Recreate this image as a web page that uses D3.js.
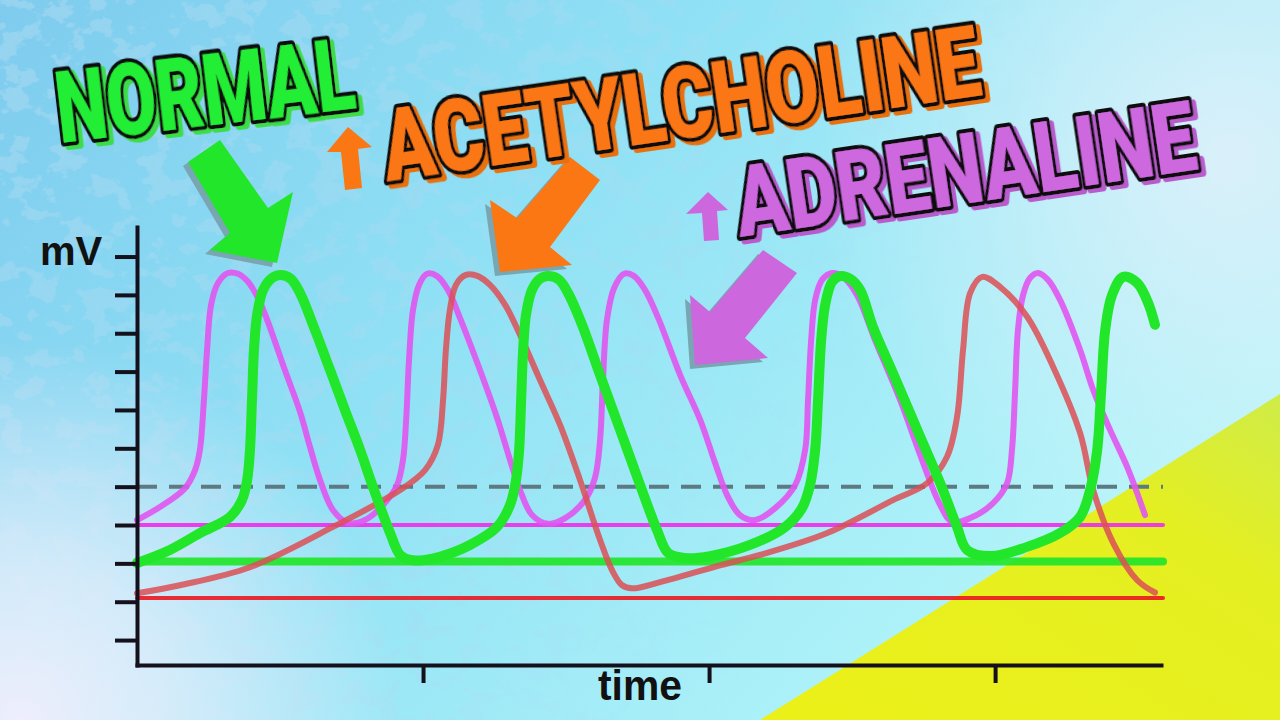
<!DOCTYPE html>
<html>
<head>
<meta charset="utf-8">
<script src="https://cdn.jsdelivr.net/npm/d3@7"></script>
<style>
  html, body { margin: 0; padding: 0; background: #9fe6f5; }
  svg { display: block; }
</style>
</head>
<body>
<div class="chart"></div>
<script>
var svgWidth = 1280;
var svgHeight = 720;
var margin = { top: 227, right: 119, bottom: 55, left: 137 };
var width = svgWidth - margin.left - margin.right;
var height = svgHeight - margin.top - margin.bottom;

// membrane potential levels (mV)
var thresholdLevel = -40;
var restLevels = [
  { name: "adrenaline", value: -50 },
  { name: "normal", value: -59.5 },
  { name: "acetylcholine", value: -69 }
];
var yTicks = [-80, -70, -60, -50, -40, -30, -20, -10, 0, 10, 20];
var xTicks = [1, 2, 3];

// [time (s), mV]
var normal = [[0,-59.9],[0.115,-56.5],[0.220,-52.1],[0.325,-47.9],[0.367,-43.5],[0.385,-38.3],[0.395,-30.4],[0.402,-17.4],[0.409,-4.3],[0.420,4.8],[0.441,11.3],[0.472,14.4],[0.503,15.2],[0.538,14.2],[0.570,10.5],[0.622,0.9],[0.675,-9.6],[0.727,-20.0],[0.780,-30.4],[0.825,-40.1],[0.885,-52.1],[0.920,-57.8],[0.955,-59.1],[1.007,-59.1],[1.059,-58.3],[1.164,-55.2],[1.259,-50.5],[1.304,-44.8],[1.325,-38.3],[1.336,-30.4],[1.343,-17.4],[1.350,-4.3],[1.360,4.8],[1.381,11.3],[1.409,14.2],[1.441,14.9],[1.476,13.9],[1.507,10.5],[1.556,2.2],[1.619,-10.9],[1.689,-25.2],[1.759,-39.6],[1.818,-51.3],[1.857,-57.3],[1.916,-58.6],[2.003,-58.1],[2.143,-55.2],[2.266,-50.5],[2.325,-45.6],[2.353,-39.6],[2.371,-30.4],[2.381,-17.4],[2.392,-1.7],[2.406,7.4],[2.430,13.4],[2.458,14.9],[2.493,14.2],[2.528,11.3],[2.573,1.6],[2.643,-10.4],[2.738,-27.0],[2.808,-39.1],[2.867,-50.5],[2.902,-56.5],[2.983,-58.1],[3.112,-55.7],[3.227,-52.1],[3.297,-47.9],[3.332,-40.9],[3.357,-30.4],[3.371,-14.8],[3.385,0.9],[3.409,10.0],[3.448,14.7],[3.497,13.1],[3.535,7.9],[3.559,2.2]];

var acetylcholine = [[0,-67.8],[0.150,-65.7],[0.395,-61.0],[0.685,-50.5],[0.920,-40.9],[1.007,-35.7],[1.052,-29.1],[1.070,-17.4],[1.080,-4.3],[1.094,6.1],[1.115,12.6],[1.150,15.2],[1.192,14.9],[1.234,12.6],[1.287,7.4],[1.339,-0.4],[1.409,-12.2],[1.479,-23.9],[1.549,-38.3],[1.619,-53.9],[1.661,-61.8],[1.696,-65.7],[1.731,-66.5],[1.829,-64.9],[2.038,-60.5],[2.178,-57.8],[2.413,-52.1],[2.643,-43.5],[2.762,-39.1],[2.832,-32.2],[2.867,-21.8],[2.888,-4.3],[2.913,10.5],[2.955,14.7],[3.017,12.1],[3.112,4.3],[3.203,-8.8],[3.297,-26.0],[3.343,-40.9],[3.413,-54.7],[3.497,-64.4],[3.559,-67.6]];

var adrenaline = [[0,-48.7],[0.080,-45.3],[0.168,-40.4],[0.203,-35.7],[0.220,-30.4],[0.234,-17.4],[0.245,-4.3],[0.259,7.4],[0.283,13.1],[0.318,15.7],[0.353,15.5],[0.388,13.4],[0.423,9.2],[0.455,3.5],[0.517,-9.6],[0.570,-20.5],[0.605,-29.7],[0.640,-38.3],[0.685,-46.1],[0.738,-49.5],[0.797,-48.7],[0.860,-44.8],[0.909,-39.6],[0.930,-33.0],[0.941,-22.6],[0.951,-6.9],[0.965,6.1],[0.986,12.6],[1.014,15.5],[1.049,14.9],[1.087,11.3],[1.129,4.0],[1.199,-9.6],[1.259,-22.1],[1.304,-33.0],[1.339,-40.9],[1.381,-47.4],[1.437,-49.7],[1.497,-48.2],[1.566,-43.5],[1.601,-37.7],[1.619,-27.8],[1.629,-12.2],[1.643,3.5],[1.668,11.8],[1.703,15.5],[1.738,14.9],[1.776,11.3],[1.822,4.0],[1.899,-10.9],[1.969,-22.6],[2.021,-33.8],[2.063,-42.2],[2.108,-47.4],[2.161,-48.7],[2.231,-45.6],[2.301,-39.6],[2.336,-30.4],[2.346,-17.4],[2.357,-1.7],[2.371,8.7],[2.395,13.9],[2.430,15.7],[2.465,14.9],[2.517,10.0],[2.580,-1.7],[2.668,-17.4],[2.738,-31.7],[2.808,-44.8],[2.850,-49.2],[2.913,-48.2],[2.993,-44.3],[3.042,-39.1],[3.059,-30.4],[3.070,-14.8],[3.080,0.9],[3.098,10.0],[3.122,14.4],[3.150,15.7],[3.185,13.9],[3.227,8.7],[3.297,-4.3],[3.343,-14.8],[3.402,-25.2],[3.462,-34.9],[3.524,-47.4]];

var green = "#22e62a", red = "#dc4f55", magenta = "#e055f0";
var orange = "#fb7714", purple = "#cd67de";

var svg = d3.select(".chart")
  .append("svg")
  .attr("width", svgWidth)
  .attr("height", svgHeight);

var defs = svg.append("defs");

// background gradients
var bg = defs.append("linearGradient").attr("id", "bg")
  .attr("x1", 0).attr("y1", 0).attr("x2", 1).attr("y2", 0.5);
bg.append("stop").attr("offset", 0).attr("stop-color", "#7ecbee");
bg.append("stop").attr("offset", 0.45).attr("stop-color", "#90e1f5");
bg.append("stop").attr("offset", 1).attr("stop-color", "#b3f5f9");

var lav = defs.append("radialGradient").attr("id", "lav")
  .attr("gradientUnits", "userSpaceOnUse")
  .attr("cx", 20).attr("cy", 720).attr("r", 380);
lav.append("stop").attr("offset", 0).attr("stop-color", "#eeeefc").attr("stop-opacity", 1);
lav.append("stop").attr("offset", 0.4).attr("stop-color", "#e4eefb").attr("stop-opacity", 0.8);
lav.append("stop").attr("offset", 1).attr("stop-color", "#eeeefc").attr("stop-opacity", 0);

var glow = defs.append("radialGradient").attr("id", "glow")
  .attr("gradientUnits", "userSpaceOnUse")
  .attr("cx", 1230).attr("cy", 160).attr("r", 420);
glow.append("stop").attr("offset", 0).attr("stop-color", "#dcf0fa").attr("stop-opacity", 0.95);
glow.append("stop").attr("offset", 1).attr("stop-color", "#dcf0fa").attr("stop-opacity", 0);

var yel = defs.append("linearGradient").attr("id", "yel")
  .attr("x1", 0).attr("y1", 1).attr("x2", 1).attr("y2", 0);
yel.append("stop").attr("offset", 0).attr("stop-color", "#ecf018");
yel.append("stop").attr("offset", 0.7).attr("stop-color", "#e4ef22");
yel.append("stop").attr("offset", 1).attr("stop-color", "#cfec48");

// grunge texture
var f = defs.append("filter").attr("id", "grunge")
  .attr("x", 0).attr("y", 0).attr("width", "100%").attr("height", "100%");
f.append("feTurbulence").attr("type", "fractalNoise")
  .attr("baseFrequency", "0.035 0.045").attr("numOctaves", 4).attr("seed", 7);
f.append("feColorMatrix").attr("type", "matrix")
  .attr("values", "0 0 0 0 0.40  0 0 0 0 0.70  0 0 0 0 0.88  16 0 0 0 -8.6");

var fade = defs.append("linearGradient").attr("id", "fade")
  .attr("x1", 0).attr("y1", 0).attr("x2", 1).attr("y2", 0.3);
fade.append("stop").attr("offset", 0).attr("stop-color", "#fff");
fade.append("stop").attr("offset", 0.55).attr("stop-color", "#777");
fade.append("stop").attr("offset", 0.8).attr("stop-color", "#000");
defs.append("mask").attr("id", "fadeMask")
  .append("rect").attr("width", svgWidth).attr("height", svgHeight).attr("fill", "url(#fade)");

// title drop shadow in a shade of the fill colour
function addShade(id, color) {
  var sf = defs.append("filter").attr("id", id)
    .attr("x", "-5%").attr("y", "-20%").attr("width", "110%").attr("height", "140%");
  sf.append("feOffset").attr("in", "SourceAlpha").attr("dx", 4).attr("dy", 4).attr("result", "off");
  sf.append("feFlood").attr("flood-color", color).attr("result", "col");
  sf.append("feComposite").attr("in", "col").attr("in2", "off").attr("operator", "in").attr("result", "sh");
  var m = sf.append("feMerge");
  m.append("feMergeNode").attr("in", "sh");
  m.append("feMergeNode").attr("in", "SourceGraphic");
}

svg.append("rect").attr("width", svgWidth).attr("height", svgHeight).attr("fill", "url(#bg)");
svg.append("rect").attr("width", svgWidth).attr("height", svgHeight).attr("fill", "url(#glow)");
svg.append("rect").attr("width", svgWidth).attr("height", svgHeight)
  .attr("filter", "url(#grunge)").attr("mask", "url(#fadeMask)").attr("opacity", 0.55);
svg.append("rect").attr("width", svgWidth).attr("height", svgHeight).attr("fill", "url(#lav)");
svg.append("polygon")
  .attr("points", "760,720 1280,720 1280,394")
  .attr("fill", "url(#yel)");

// chart group
var chart = svg.append("g")
  .attr("transform", "translate(" + margin.left + "," + margin.top + ")");

var xLinearScale = d3.scaleLinear().domain([0, 3.58]).range([0, width]);
var yLinearScale = d3.scaleLinear().domain([-86.5, 27.7]).range([height, 0]);

var xEnd = 3.587;

// threshold (dashed)
chart.append("line")
  .attr("x1", xLinearScale(0)).attr("x2", xLinearScale(xEnd))
  .attr("y1", yLinearScale(thresholdLevel)).attr("y2", yLinearScale(thresholdLevel))
  .attr("stroke", "#5d7a82").attr("stroke-width", 4)
  .attr("stroke-dasharray", "20 12");

var restColor = { adrenaline: "#ee30ee", normal: green, acetylcholine: "#ec1c24" };
var restWidth = { adrenaline: 4, normal: 8, acetylcholine: 4 };
chart.selectAll(".rest")
  .data(restLevels)
  .enter().append("line")
  .attr("class", "rest")
  .attr("x1", xLinearScale(0)).attr("x2", xLinearScale(xEnd))
  .attr("y1", function(d) { return yLinearScale(d.value); })
  .attr("y2", function(d) { return yLinearScale(d.value); })
  .attr("stroke", function(d) { return restColor[d.name]; })
  .attr("stroke-width", function(d) { return restWidth[d.name]; })
  .attr("stroke-linecap", "round")
  .attr("opacity", 0.92);

var line = d3.line()
  .x(function(d) { return xLinearScale(d[0]); })
  .y(function(d) { return yLinearScale(d[1]); })
  .curve(d3.curveCatmullRom.alpha(0.5));

chart.append("path").datum(adrenaline)
  .attr("d", line).attr("fill", "none")
  .attr("stroke", magenta).attr("stroke-width", 6)
  .attr("stroke-linecap", "round").attr("stroke-linejoin", "round").attr("opacity", 0.9);

chart.append("path").datum(acetylcholine)
  .attr("d", line).attr("fill", "none")
  .attr("stroke", red).attr("stroke-width", 6)
  .attr("stroke-linecap", "round").attr("stroke-linejoin", "round").attr("opacity", 0.85);

chart.append("path").datum(normal)
  .attr("d", line).attr("fill", "none")
  .attr("stroke", green).attr("stroke-width", 10)
  .attr("stroke-linecap", "round").attr("stroke-linejoin", "round");

// axes
var leftAxis = d3.axisLeft(yLinearScale).tickValues(yTicks)
  .tickSize(22).tickSizeOuter(0).tickFormat("");
var bottomAxis = d3.axisBottom(xLinearScale).tickValues(xTicks)
  .tickSize(18).tickSizeOuter(0).tickFormat("");

var yAxisG = chart.append("g").call(leftAxis);
var xAxisG = chart.append("g")
  .attr("transform", "translate(0," + height + ")")
  .call(bottomAxis);

[yAxisG, xAxisG].forEach(function(g) {
  g.select(".domain").attr("stroke", "#15111c").attr("stroke-width", 4)
    .attr("stroke-linecap", "square");
  g.selectAll(".tick line").attr("stroke", "#15111c").attr("stroke-width", 4);
});

chart.append("text")
  .attr("x", -97).attr("y", 38)
  .attr("font-family", "'Liberation Sans', Arial, sans-serif")
  .attr("font-weight", "bold").attr("font-size", 40)
  .attr("fill", "#111")
  .text("mV");

chart.append("text")
  .attr("x", 503).attr("y", 473)
  .attr("text-anchor", "middle")
  .attr("font-family", "'Liberation Sans', Arial, sans-serif")
  .attr("font-weight", "bold").attr("font-size", 42)
  .attr("textLength", 84).attr("lengthAdjust", "spacingAndGlyphs")
  .attr("fill", "#111")
  .text("time");

// arrows (annotation shapes)
var arrows = [
  { color: green, pts: [[188,162],[220,140],[268,208],[293,192],[277,263],[210,250],[230,233]], shadow: true },
  { color: orange, pts: [[570,157],[600,180],[550,247],[572,265],[500,272],[490,200],[517,218]], shadow: true },
  { color: purple, pts: [[763,250],[797,273],[745,338],[768,358],[695,365],[690,295],[710,312]], shadow: true },
  { color: orange, pts: [[348,127],[372,147],[358,149],[362,188],[345,190],[341,152],[327,152]], shadow: false },
  { color: purple, pts: [[708,192],[728,210],[717,211],[719,240],[704,241],[702,213],[686,214]], shadow: false }
];

var arrowG = svg.append("g");
arrows.forEach(function(a) {
  var p = a.pts.map(function(d) { return d.join(","); }).join(" ");
  if (a.shadow) {
    arrowG.append("polygon").attr("points", p)
      .attr("fill", "#78a6b2").attr("transform", "translate(-5,4)");
  }
  arrowG.append("polygon").attr("points", p).attr("fill", a.color);
});

// big outlined titles, squeezed horizontally to the width seen in the picture
var titles = [
  { id: "shG", text: "NORMAL", x: 60, y: 143, angle: -6.7, size: 100, len: 300, fill: "#22ee36", shade: "#3ddc4a" },
  { id: "shO", text: "ACETYLCHOLINE", x: 387, y: 181, angle: -8.2, size: 100, len: 603, fill: orange, shade: "#e8700f" },
  { id: "shP", text: "ADRENALINE", x: 740, y: 237, angle: -8.4, size: 98, len: 465, fill: purple, shade: "#b85ccc" }
];

titles.forEach(function(t) {
  addShade(t.id, t.shade);
  var g = svg.append("g")
    .attr("transform", "translate(" + t.x + "," + t.y + ") rotate(" + t.angle + ")")
    .attr("filter", "url(#" + t.id + ")");
  var txt = g.append("text")
    .attr("font-family", "Roboto, 'Liberation Sans', sans-serif")
    .attr("font-weight", 900)
    .attr("font-size", t.size)
    .attr("stroke-linejoin", "round")
    .attr("paint-order", "stroke")
    .attr("fill", t.fill).attr("stroke", "#111").attr("stroke-width", 7)
    .text(t.text);
  var natural = txt.node().getComputedTextLength();
  var sx = natural > 0 ? t.len / natural : 1;
  txt.attr("transform", "scale(" + sx + ",1)")
    .attr("stroke-width", 7 / Math.sqrt(sx));
});
</script>
</body>
</html>
